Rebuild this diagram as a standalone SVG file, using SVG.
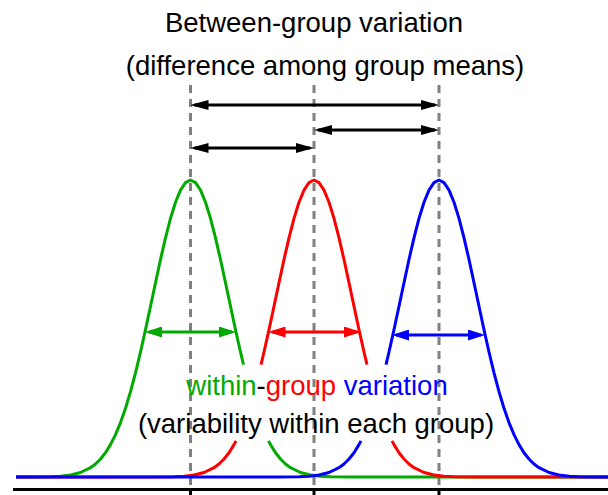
<svg xmlns="http://www.w3.org/2000/svg" width="608" height="495" viewBox="0 0 608 495">
<style>
text{font-family:"Liberation Sans",Arial,sans-serif;font-size:27.5px;fill:#000}
.curve{fill:none;stroke-width:3;stroke-linejoin:round;stroke-linecap:butt}
.dash{stroke:#808080;stroke-width:3;stroke-dasharray:8 6;fill:none}
.bk{stroke:#000;stroke-width:3;fill:none}
</style>
<defs>
<marker id="ak" viewBox="0 0 18 10" refX="14" refY="5" markerWidth="18" markerHeight="10" markerUnits="userSpaceOnUse" orient="auto-start-reverse"><path d="M0,0 L18,5 L0,10 z" fill="#000"/></marker>
<marker id="ag" viewBox="0 0 17 11" refX="13" refY="5.5" markerWidth="17" markerHeight="11" markerUnits="userSpaceOnUse" orient="auto-start-reverse"><path d="M0,0 L17,5.5 L0,11 z" fill="#00aa00"/></marker>
<marker id="ar" viewBox="0 0 17 11" refX="13" refY="5.5" markerWidth="17" markerHeight="11" markerUnits="userSpaceOnUse" orient="auto-start-reverse"><path d="M0,0 L17,5.5 L0,11 z" fill="#ff0000"/></marker>
<marker id="ab" viewBox="0 0 17 11" refX="13" refY="5.5" markerWidth="17" markerHeight="11" markerUnits="userSpaceOnUse" orient="auto-start-reverse"><path d="M0,0 L17,5.5 L0,11 z" fill="#0000ff"/></marker>
</defs>
<rect width="608" height="495" fill="#fff"/>
<g id="title">
<text x="314" y="32" text-anchor="middle">Between-group variation</text>
<text x="325" y="75" text-anchor="middle">(difference among group means)</text>
</g>
<g id="axis">
<line class="bk" x1="13" y1="489.5" x2="608" y2="489.5"/>
<line class="bk" x1="190.5" y1="489" x2="190.5" y2="495"/>
<line class="bk" x1="314" y1="489" x2="314" y2="495"/>
<line class="bk" x1="439" y1="489" x2="439" y2="495"/>
</g>
<g id="means">
<line class="dash" x1="190.5" y1="85" x2="190.5" y2="487"/>
<line class="dash" x1="314" y1="85" x2="314" y2="487"/>
<line class="dash" x1="439" y1="85" x2="439" y2="487"/>
</g>
<g id="green-group">
<path class="curve" stroke="#00aa00" d="M16,477 L30.5,477 L50.5,476.7 L60.5,476.2 L70.5,475 L80.5,472.5 L90.5,467.7 L95.5,464 L100.5,459 L105.5,452.7 L110.5,444.6 L115.5,434.6 L120.5,422.6 L125.5,408.2 L130.5,391.6 L135.5,372.8 L140.5,352 L145.5,329.7 L150.5,306.3 L155.5,282.7 L160.5,259.5 L165.5,237.8 L170.5,218.4 L175.5,202.3 L180.5,190.1 L185.5,182.6 L190.5,180 L195.5,182.6 L200.5,190.1 L205.5,202.3 L210.5,218.4 L215.5,237.8 L220.5,259.5 L225.5,282.7 L230.5,306.3 L235.5,329.7 L240.5,352 L243.5,364.7"/>
<path class="curve" stroke="#00aa00" d="M268.5,440.9 L270.5,444.6 L275.5,452.7 L280.5,459 L285.5,464 L290.5,467.7 L300.5,472.5 L310.5,475 L320.5,476.2 L330.5,476.7 L350.5,477 L608,477"/>
</g>
<g id="red-group">
<path class="curve" stroke="#ff0000" d="M16,477 L154,477 L174,476.7 L184,476.2 L194,475 L204,472.5 L214,467.7 L219,464 L224,459 L229,452.7 L234,444.6 L236,440.9"/>
<path class="curve" stroke="#ff0000" d="M261,364.7 L264,352 L269,329.7 L274,306.3 L279,282.7 L284,259.5 L289,237.8 L294,218.4 L299,202.3 L304,190.1 L309,182.6 L314,180 L319,182.6 L324,190.1 L329,202.3 L334,218.4 L339,237.8 L344,259.5 L349,282.7 L354,306.3 L359,329.7 L364,352 L367,364.7"/>
<path class="curve" stroke="#ff0000" d="M392,440.9 L394,444.6 L399,452.7 L404,459 L409,464 L414,467.7 L424,472.5 L434,475 L444,476.2 L454,476.7 L474,477 L608,477"/>
</g>
<g id="blue-group">
<path class="curve" stroke="#0000ff" d="M16,477 L279,477 L299,476.7 L309,476.2 L319,475 L329,472.5 L339,467.7 L344,464 L349,459 L354,452.7 L359,444.6 L361,440.9"/>
<path class="curve" stroke="#0000ff" d="M386,364.7 L389,352 L394,329.7 L399,306.3 L404,282.7 L409,259.5 L414,237.8 L419,218.4 L424,202.3 L429,190.1 L434,182.6 L439,180 L444,182.6 L449,190.1 L454,202.3 L459,218.4 L464,237.8 L469,259.5 L474,282.7 L479,306.3 L484,329.7 L489,352 L494,372.8 L499,391.6 L504,408.2 L509,422.6 L514,434.6 L519,444.6 L524,452.7 L529,459 L534,464 L539,467.7 L549,472.5 L559,475 L569,476.2 L579,476.7 L599,477 L608,477"/>
</g>
<g id="connectors">
<line class="bk" x1="194.5" y1="105" x2="435" y2="105" marker-start="url(#ak)" marker-end="url(#ak)"/>
<line class="bk" x1="318" y1="130" x2="435" y2="130" marker-start="url(#ak)" marker-end="url(#ak)"/>
<line class="bk" x1="194.5" y1="148" x2="310" y2="148" marker-start="url(#ak)" marker-end="url(#ak)"/>
<line stroke="#00aa00" stroke-width="3" x1="149" y1="332" x2="232" y2="332" marker-start="url(#ag)" marker-end="url(#ag)"/>
<line stroke="#ff0000" stroke-width="3" x1="272.5" y1="332" x2="357" y2="332" marker-start="url(#ar)" marker-end="url(#ar)"/>
<line stroke="#0000ff" stroke-width="3" x1="396" y1="335" x2="481" y2="335" marker-start="url(#ab)" marker-end="url(#ab)"/>
</g>
<g id="within-label">
<text x="317" y="395" text-anchor="middle"><tspan fill="#00aa00">within</tspan><tspan fill="#000">-</tspan><tspan fill="#ff0000">group</tspan> <tspan fill="#0000ff">variation</tspan></text>
<text x="316" y="433" text-anchor="middle">(variability within each group)</text>
</g>
</svg>
